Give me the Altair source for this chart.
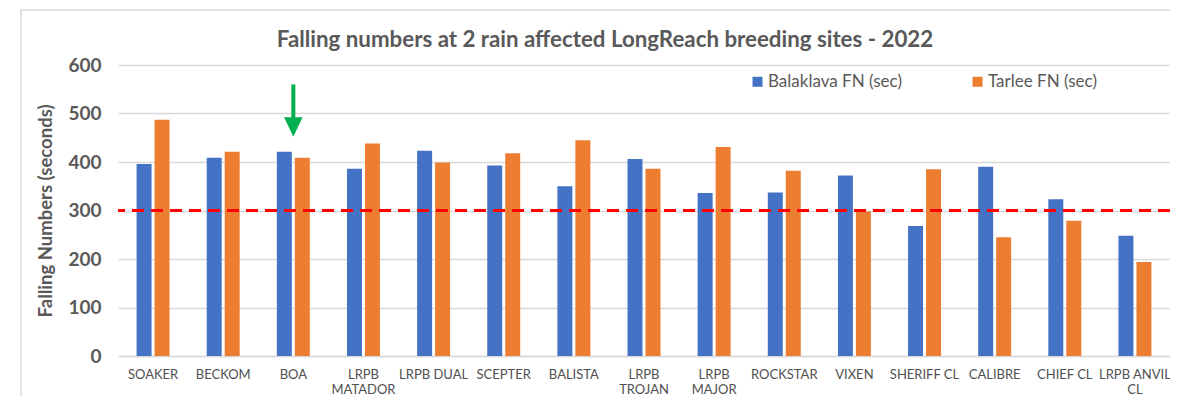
import altair as alt
import pandas as pd

title_text = "Falling numbers at 2 rain affected LongReach breeding sites - 2022"
categories = ["SOAKER", "BECKOM", "BOA", "LRPB|MATADOR", "LRPB DUAL", "SCEPTER",
              "BALISTA", "LRPB|TROJAN", "LRPB|MAJOR", "ROCKSTAR", "VIXEN",
              "SHERIFF CL", "CALIBRE", "CHIEF CL", "LRPB ANVIL|CL"]
series_names = ["Balaklava FN (sec)", "Tarlee FN (sec)"]
balaklava = [396, 409, 421, 386, 423, 393, 350, 406, 336, 337, 372, 268, 390, 323, 248]
tarlee = [487, 421, 409, 438, 399, 418, 445, 386, 431, 382, 298, 385, 245, 279, 194]
y_ticks = [0, 100, 200, 300, 400, 500, 600]
threshold = [300]
arrow_site = ["BOA"]
arrow_top = [560]
arrow_head = [472]

rows = []
for i, c in enumerate(categories):
    rows.append({"site": c, "series": series_names[0], "fn": balaklava[i]})
    rows.append({"site": c, "series": series_names[1], "fn": tarlee[i]})
df = pd.DataFrame(rows)

FONT = "Lato"
GREY = "#595959"
GRID = "#D9D9D9"

x_enc = alt.X("site:N", sort=categories,
              scale=alt.Scale(domain=categories, paddingInner=0.53, paddingOuter=0.265),
              axis=alt.Axis(title=None, labelAngle=0, labelExpr="split(datum.label, '|')",
                            labelFont=FONT, labelFontSize=13, labelColor="#505050",
                            labelLineHeight=15, labelPadding=12, ticks=False,
                            domainColor=GRID, domainWidth=1.5, grid=False))
y_scale = alt.Scale(domain=[0, 600], nice=False)

bars = alt.Chart(df).mark_bar().encode(
    x=x_enc,
    xOffset=alt.XOffset("series:N", sort=series_names,
                        scale=alt.Scale(domain=series_names, paddingInner=0.167, paddingOuter=0)),
    y=alt.Y("fn:Q", scale=y_scale,
            axis=alt.Axis(values=y_ticks, title="Falling Numbers (seconds)",
                          titleFont=FONT, titleFontSize=18.5, titleFontWeight="bold",
                          titleColor=GREY, titlePadding=12,
                          labelFont=FONT, labelFontSize=19, labelFontWeight="bold",
                          labelColor=GREY, labelPadding=17, ticks=False, domain=False,
                          grid=True, gridColor=GRID, gridWidth=1.5)),
    color=alt.Color("series:N", sort=series_names,
                    scale=alt.Scale(domain=series_names, range=["#4472C4", "#ED7D31"]),
                    legend=alt.Legend(title=None, orient="none", legendX=631, legendY=8,
                                      direction="horizontal", symbolType="square",
                                      symbolSize=100, symbolStrokeWidth=0,
                                      labelFont=FONT, labelFontSize=17, labelColor=GREY,
                                      columnPadding=67, padding=0, labelOffset=2)),
)

thr = alt.Chart(pd.DataFrame({"v": threshold})).mark_rule(
    color="#FF0000", strokeWidth=3, strokeDash=[12, 7]
).encode(y=alt.Y("v:Q", scale=y_scale))

adf = pd.DataFrame({"site": arrow_site, "top": arrow_top, "head": arrow_head})
arrow_shaft = alt.Chart(adf).mark_rule(color="#00B050", strokeWidth=4).encode(
    x=alt.X("site:N", sort=categories), y=alt.Y("top:Q", scale=y_scale), y2="head:Q")
arrow_tip = alt.Chart(adf).mark_point(
    shape="M-0.95,-1L0.95,-1L0,1Z", filled=True, color="#00B050", opacity=1, size=380
).encode(x=alt.X("site:N", sort=categories), y=alt.Y("head:Q", scale=y_scale))

border = alt.Chart(alt.Data(values=[{}])).mark_rect(
    fill=None, stroke=GRID, strokeWidth=1.5, clip=False
).encode(x=alt.value(-97), x2=alt.value(1200), y=alt.value(-55), y2=alt.value(345))

title = alt.Chart(alt.Data(values=[{"t": title_text}])).mark_text(
    font=FONT, fontSize=22.3, fontWeight="bold", color=GREY, align="center",
    baseline="alphabetic"
).encode(x=alt.value(487), y=alt.value(-18), text="t:N")

chart = alt.layer(border, bars, thr, arrow_shaft, arrow_tip, title).properties(
    width=1052, height=291,
    padding={"left": 110, "top": 57, "right": 0, "bottom": 40},
    autosize=alt.AutoSizeParams(type="none"),
).configure_view(stroke=None)

chart.save("out.html", embed_options={"renderer": "svg", "actions": False})
